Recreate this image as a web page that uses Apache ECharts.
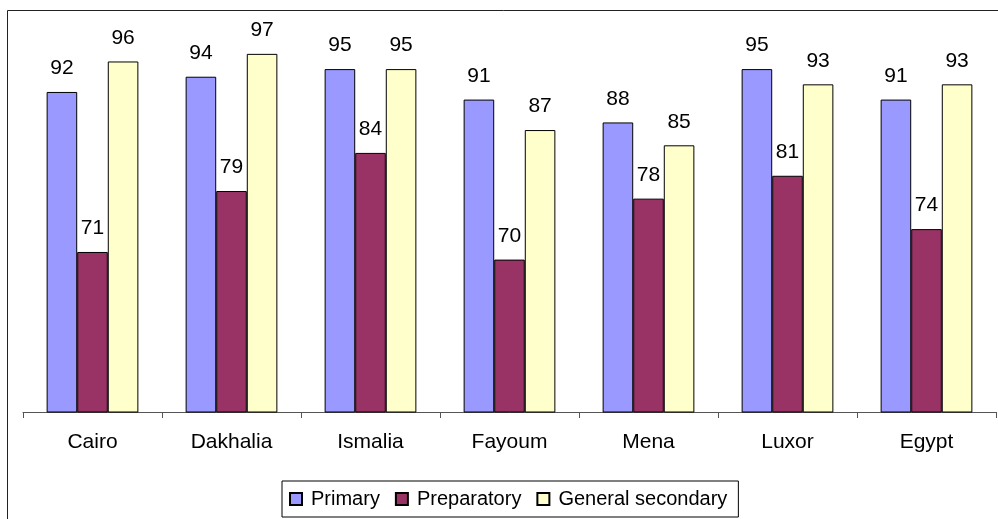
<!DOCTYPE html>
<html>
<head>
<meta charset="utf-8">
<script src="https://cdn.jsdelivr.net/npm/echarts@6/dist/echarts.min.js"></script>
<style>
  html, body { margin: 0; padding: 0; background: #fff; }
  #chart { width: 998px; height: 519px; }
</style>
</head>
<body>
<div id="chart"></div>
<script>
// Governorates shown on the category axis
const regions = ['Cairo', 'Dakhalia', 'Ismalia', 'Fayoum', 'Mena', 'Luxor', 'Egypt'];

// Values per education stage
const primary = [92, 94, 95, 91, 88, 95, 91];
const preparatory = [71, 79, 84, 70, 78, 81, 74];
const generalSecondary = [96, 97, 95, 87, 85, 93, 93];

const seriesNames = ['Primary', 'Preparatory', 'General secondary'];
const seriesColors = ['#9999FF', '#993366', '#FFFFCC'];

const FONT = '"Liberation Sans", Arial, sans-serif';

const chart = echarts.init(document.getElementById('chart'));

function barSeries(name, data, color) {
  return {
    name: name,
    type: 'bar',
    data: data,
    barGap: '0%',
    barCategoryGap: '34%',
    itemStyle: { color: color, borderColor: '#000', borderWidth: 1 },
    label: {
      show: true,
      position: 'top',
      distance: 13,
      color: '#000',
      fontFamily: FONT,
      fontSize: 21,
      lineHeight: 21
    },
    emphasis: { disabled: true }
  };
}

chart.setOption({
  animation: false,
  backgroundColor: '#fff',
  graphic: [{
    type: 'rect',
    shape: { x: 7.5, y: 10.5, width: 1000, height: 520 },
    style: { fill: 'none', stroke: '#222', lineWidth: 1 },
    silent: true,
    z: -1
  }],
  grid: { left: 23, right: 2, top: 31, bottom: 107 },
  xAxis: {
    type: 'category',
    data: regions,
    axisLine: { lineStyle: { color: '#555', width: 1 } },
    axisTick: { show: true, length: 6, lineStyle: { color: '#555' } },
    axisLabel: { color: '#000', fontFamily: FONT, fontSize: 21, lineHeight: 21, margin: 20 }
  },
  yAxis: {
    type: 'value',
    min: 50,
    max: 100,
    show: false,
    splitLine: { show: false }
  },
  legend: {
    data: seriesNames,
    left: 282,
    top: 481,
    padding: [8, 11, 8, 7],
    itemGap: 15,
    itemWidth: 12,
    itemHeight: 12,
    icon: 'rect',
    borderColor: '#000',
    borderWidth: 1,
    textStyle: { color: '#000', fontFamily: FONT, fontSize: 20, padding: [0, 0, 0, 4] }
  },
  series: [
    barSeries(seriesNames[0], primary, seriesColors[0]),
    barSeries(seriesNames[1], preparatory, seriesColors[1]),
    barSeries(seriesNames[2], generalSecondary, seriesColors[2])
  ]
});
</script>
</body>
</html>
